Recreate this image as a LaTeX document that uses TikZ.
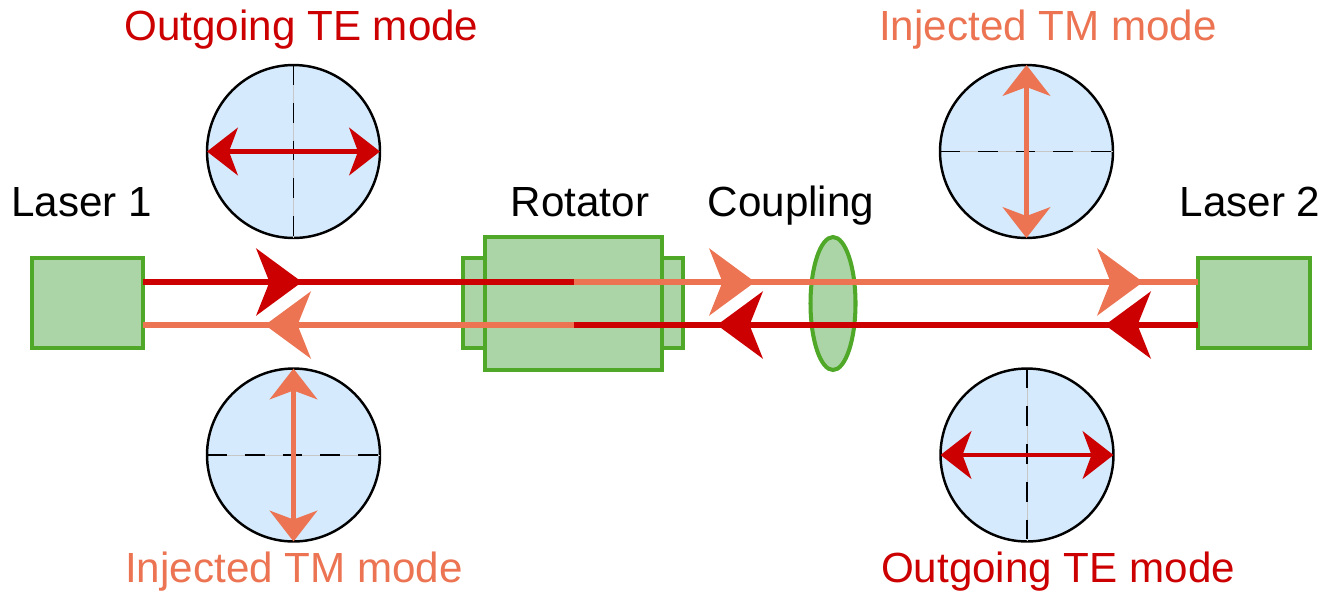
\documentclass[tikz,border=0pt]{standalone}
\usepackage{fontspec}
\setmainfont{Liberation Sans}
\usetikzlibrary{arrows.meta,shapes.geometric,calc}
\definecolor{tered}{RGB}{204,0,0}
\definecolor{tmorange}{RGB}{236,116,82}
\definecolor{gfill}{RGB}{171,213,166}
\definecolor{gline}{RGB}{80,168,40}
\definecolor{cfill}{RGB}{213,234,252}
\begin{document}
\begin{tikzpicture}[x=0.02cm,y=-0.02cm,
  box/.style={draw=gline,fill=gfill,line width=2.3pt,inner sep=0pt,outer sep=0pt},
  pol/.style={circle,draw=black,fill=cfill,line width=1.4pt,minimum size=3.46cm,inner sep=0pt,outer sep=0pt},
  lbl/.style={anchor=base,font=\fontsize{24}{29}\selectfont,inner sep=0pt},
  beam/.style={line width=3.4pt},
  big/.style={-{Stealth[length=26pt,width=38pt,inset=7.5pt]}},
  ax/.style={line width=1.1pt,dash pattern=on 11.3pt off 10.2pt},
  thinax/.style={line width=0.5pt,black!22},
  pa/.style={line width=2.8pt,{Stealth[length=17.5pt,width=27pt,inset=5pt]}-{Stealth[length=17.5pt,width=27pt,inset=5pt]}}
]
\useasboundingbox[fill=white] (0,0) rectangle (1325,593);

% labels
\node[lbl,text=tered] (t1) at (301.5,40) {Outgoing TE mode};
\node[lbl,text=tmorange] (t2) at (1048,40) {Injected TM mode};
\node[lbl,text=tmorange] (t3) at (294,582) {Injected TM mode};
\node[lbl,text=tered] (t4) at (1058,582) {Outgoing TE mode};
\node[lbl] (n1) at (81.5,216) {Laser 1};
\node[lbl] (n2) at (580,216) {Rotator};
\node[lbl] (n3) at (791,216) {Coupling};
\node[lbl] (n4) at (1250,216) {Laser 2};

% polarisation circles
\node[pol] (c1) at (293.5,151.5) {};
\draw[thinax] (c1.north) -- (c1.south);
\draw[ax] (c1.north) -- (c1.south);
\draw[pa,tered] (c1.west) -- (c1.east);

\node[pol] (c2) at (293.5,455) {};
\draw[thinax] (c2.west) -- (c2.east);
\draw[ax] (c2.west) -- (c2.east);
\draw[pa,tmorange] (c2.north) -- (c2.south);

\node[pol] (c3) at (1026.5,151.5) {};
\draw[thinax] (c3.west) -- (c3.east);
\draw[ax] (c3.west) -- (c3.east);
\draw[pa,tmorange] (c3.north) -- (c3.south);

\node[pol] (c4) at (1027,455) {};
\draw[thinax] (c4.north) -- (c4.south);
\draw[ax] (c4.north) -- (c4.south);
\draw[pa,tered] (c4.west) -- (c4.east);

% components
\node[box,minimum width=2.22cm,minimum height=1.8cm] (laser1) at (87.5,303) {};
\node[box,minimum width=2.24cm,minimum height=1.8cm] (laser2) at (1254,303) {};
\node[box,minimum width=4.4cm,minimum height=1.8cm] (flange) at (573,303) {};
\node[box,minimum width=3.54cm,minimum height=2.66cm] (rot) at (573.5,303.5) {};
\node[box,ellipse,minimum width=0.9cm,minimum height=2.66cm] (lens) at (833,303.5) {};

% beams
\coordinate (uy) at (0,282);
\coordinate (ly) at (0,325);
\coordinate (u1) at (laser1.east |- uy);
\coordinate (u2) at (laser2.west |- uy);
\coordinate (um) at (rot.center |- uy);
\coordinate (l1) at (laser1.east |- ly);
\coordinate (l2) at (laser2.west |- ly);
\coordinate (lm) at (rot.center |- ly);
\coordinate (ua1) at (302,282);
\coordinate (ua2) at (755,282);
\coordinate (ua3) at (1143,282);
\coordinate (la1) at (265,325);
\coordinate (la2) at (717,325);
\coordinate (la3) at (1105,325);

\draw[beam,tered] (u1) -- (um);
\draw[beam,tmorange] (um) -- (u2);
\draw[beam,tered] (l2) -- (lm);
\draw[beam,tmorange] (lm) -- (l1);

% arrowheads on the beams
\draw[beam,tered,big] ($(ua1)+(-60,0)$) -- (ua1);
\draw[beam,tmorange,big] ($(ua2)+(-60,0)$) -- (ua2);
\draw[beam,tmorange,big] ($(ua3)+(-60,0)$) -- (ua3);
\draw[beam,tered,big] ($(la3)+(60,0)$) -- (la3);
\draw[beam,tered,big] ($(la2)+(60,0)$) -- (la2);
\draw[beam,tmorange,big] ($(la1)+(60,0)$) -- (la1);
\end{tikzpicture}
\end{document}
